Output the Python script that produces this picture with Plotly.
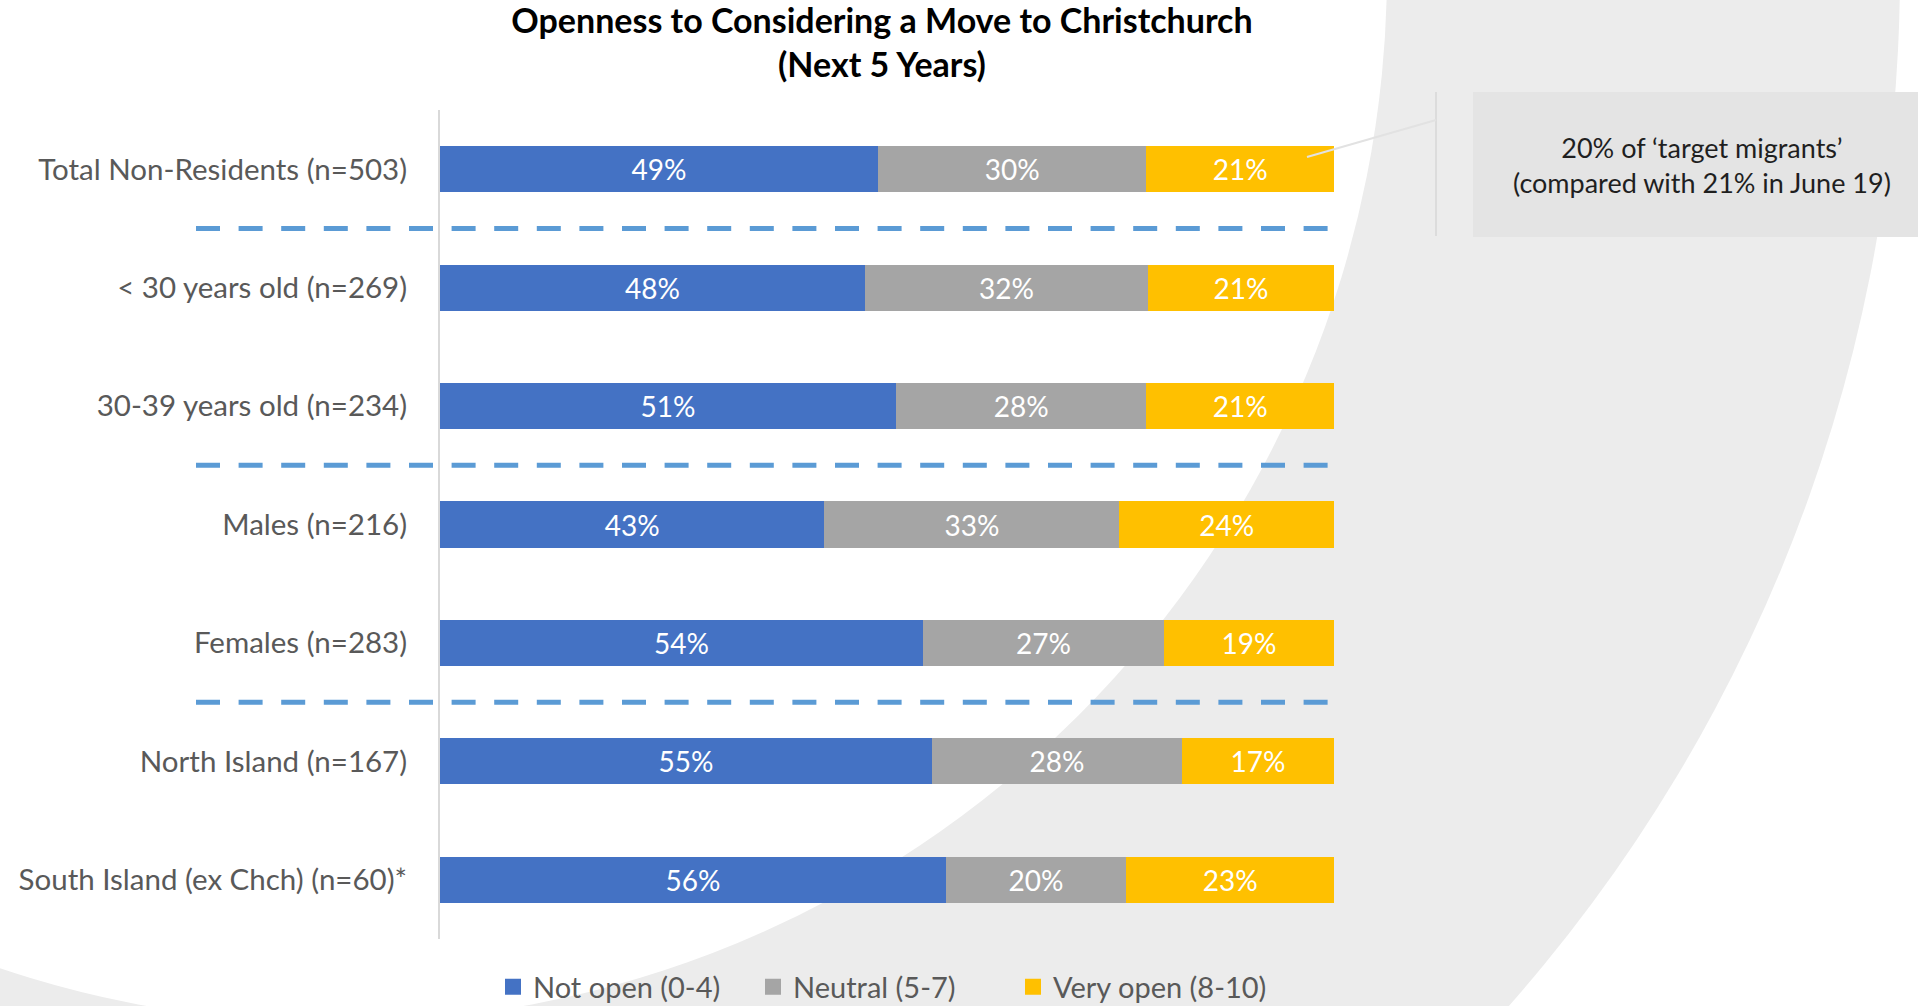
import plotly.graph_objects as go

# Survey segments (top to bottom as displayed)
categories = [
    "Total Non-Residents (n=503)",
    "< 30 years old (n=269)",
    "30-39 years old (n=234)",
    "Males (n=216)",
    "Females (n=283)",
    "North Island (n=167)",
    "South Island (ex Chch) (n=60)*",
]
not_open = [49, 48, 51, 43, 54, 55, 56]
neutral = [30, 32, 28, 33, 27, 28, 20]
very_open = [21, 21, 21, 24, 19, 17, 23]

series_names = ["Not open (0-4)", "Neutral (5-7)", "Very open (8-10)"]
series_colors = ["#4472C4", "#A5A5A5", "#FFC000"]

# Groups separated by dashed rules (index of the last category in each group)
group_ends = [0, 2, 4]

W, H = 1918, 1006
ML, MR, MT, MB = 440, 584, 110, 67
PW, PH = W - ML - MR, H - MT - MB


def px_x(px):
    return (px - ML) / PW


def px_y(py):
    return (H - MB - py) / PH


LABEL_FONT = "Lato, 'Open Sans', sans-serif"

fig = go.Figure()
for name, vals, col in zip(series_names, [not_open, neutral, very_open], series_colors):
    fig.add_trace(go.Bar(
        y=categories,
        x=vals,
        name=name,
        orientation="h",
        marker=dict(color=col, line=dict(width=0)),
        text=[f"{v}%" for v in vals],
        textposition="inside",
        insidetextanchor="middle",
        textangle=0,
        constraintext="none",
        textfont=dict(family=LABEL_FONT, size=28, color="white"),
        hoverinfo="skip",
        showlegend=False,
        legendgroup=name,
    ))

# Legend keys with larger square swatches
for name, col in zip(series_names, series_colors):
    fig.add_trace(go.Scatter(
        x=[None], y=[None], mode="markers", name=name, legendgroup=name,
        marker=dict(symbol="square", size=16, color=col),
        hoverinfo="skip", showlegend=True,
    ))

shapes = []
# Background ring
cx, cy, r_out, r_in = 335, -29, 1565, 1052
shapes.append(dict(type="circle", xref="paper", yref="paper", layer="below",
                   x0=px_x(cx - r_out), x1=px_x(cx + r_out),
                   y0=px_y(cy + r_out), y1=px_y(cy - r_out),
                   fillcolor="#ECECEC", line=dict(width=0)))
shapes.append(dict(type="circle", xref="paper", yref="paper", layer="below",
                   x0=px_x(cx - r_in), x1=px_x(cx + r_in),
                   y0=px_y(cy + r_in), y1=px_y(cy - r_in),
                   fillcolor="#FFFFFF", line=dict(width=0)))

# Callout box and leader
shapes.append(dict(type="rect", xref="paper", yref="paper", layer="below",
                   x0=px_x(1473), x1=px_x(1930), y0=px_y(237), y1=px_y(92),
                   fillcolor="#E4E4E4", line=dict(width=0)))
shapes.append(dict(type="line", xref="paper", yref="paper", layer="below",
                   x0=px_x(1436), x1=px_x(1436), y0=px_y(92), y1=px_y(236),
                   line=dict(color="#DCDCDC", width=2)))
shapes.append(dict(type="line", xref="paper", yref="paper", layer="above",
                   x0=px_x(1307), x1=px_x(1436), y0=px_y(157), y1=px_y(120),
                   line=dict(color="#E2E2E2", width=2)))

# Dashed group separators between categories
n = len(categories)
for k in group_ends:
    yp = (n - 0.5 - (k + 0.5)) / n
    shapes.append(dict(type="line", xref="paper", yref="paper", layer="above",
                       x0=px_x(196), x1=px_x(1328), y0=yp, y1=yp,
                       line=dict(color="#5B9BD5", width=5, dash="24px,18.6px")))

fig.update_layout(
    width=W, height=H,
    margin=dict(l=ML, r=MR, t=MT, b=MB, pad=0, autoexpand=False),
    paper_bgcolor="white",
    plot_bgcolor="rgba(0,0,0,0)",
    barmode="stack",
    barnorm="percent",
    bargap=0.61,
    title=dict(
        text="<b>Openness to Considering a Move to Christchurch<br>(Next 5 Years)</b>",
        x=px_x(882), xref="paper", xanchor="center",
        y=1 - 33 / H, yref="container", yanchor="middle",
        font=dict(family=LABEL_FONT, size=34, color="#000000"),
    ),
    xaxis=dict(range=[0, 100], visible=False, fixedrange=True),
    yaxis=dict(
        categoryorder="array", categoryarray=categories,
        autorange="reversed",
        showline=True, linecolor="#D9D9D9", linewidth=2,
        showgrid=False, zeroline=False, ticks="",
        ticklabelstandoff=25,
        tickfont=dict(family=LABEL_FONT, size=29.5, color="#595959"),
    ),
    legend=dict(
        orientation="h", x=px_x(493), xanchor="left",
        y=px_y(987), yanchor="middle",
        font=dict(family=LABEL_FONT, size=29, color="#595959"),
        bgcolor="rgba(0,0,0,0)",
        traceorder="normal",
        entrywidth=215, entrywidthmode="pixels",
    ),
    shapes=shapes,
    annotations=[dict(
        text="20% of ‘target migrants’<br>(compared with 21% in June 19)",
        xref="paper", yref="paper", x=px_x(1702), y=px_y(165),
        xanchor="center", yanchor="middle", showarrow=False, align="center",
        font=dict(family=LABEL_FONT, size=27, color="#1F1F1F"),
    )],
    showlegend=True,
)

fig.write_html("out.html")
